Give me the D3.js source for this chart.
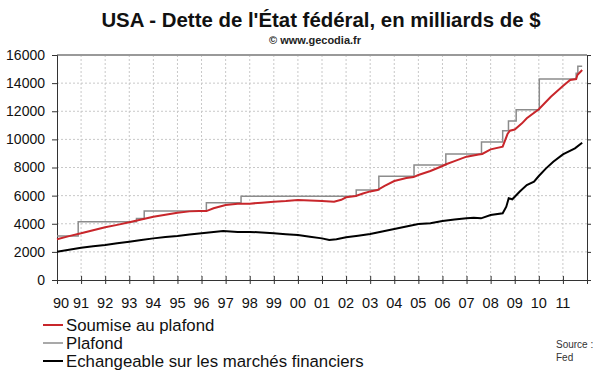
<!DOCTYPE html>
<html>
<head>
<meta charset="utf-8">
<script src="https://cdn.jsdelivr.net/npm/d3@7"></script>
<style>
  body { margin: 0; background: #fff; }
  svg { display: block; font-family: "Liberation Sans", Arial, sans-serif; }
</style>
</head>
<body>
<div id="chart"></div>
<script>
// dimensions of the picture and the plot area
const width = 600,
  height = 372;
const plot = { left: 57, right: 587, top: 55, bottom: 280 };

// debt subject to the limit (red)
const soumiseYears = [1990.0, 1990.5, 1991.0, 1991.5, 1992.0, 1992.5, 1993.0, 1993.5, 1994.0, 1994.5,
  1995.0, 1995.5, 1995.9, 1996.2, 1996.5, 1997.0, 1997.5, 1998.0, 1998.5, 1999.0, 1999.5,
  2000.0, 2000.5, 2001.0, 2001.5, 2001.8, 2002.0, 2002.4, 2002.7, 2003.0, 2003.3, 2003.6,
  2004.0, 2004.5, 2004.8, 2005.0, 2005.5, 2006.0, 2006.15, 2006.5, 2007.0, 2007.5, 2007.65,
  2008.0, 2008.5, 2008.7, 2008.8, 2009.0, 2009.3, 2009.5, 2010.0, 2010.5, 2011.0, 2011.3,
  2011.55, 2011.6, 2011.8];
const soumiseValues = [2900, 3120, 3320, 3540, 3745, 3920, 4100, 4300, 4500, 4640,
  4790, 4880, 4900, 4900, 5100, 5330, 5420, 5430, 5500, 5570, 5620,
  5690, 5660, 5620, 5570, 5700, 5880, 5970, 6150, 6300, 6400, 6700,
  7040, 7250, 7320, 7465, 7750, 8105, 8230, 8450, 8770, 8930, 8960,
  9290, 9480, 10380, 10620, 10700, 11140, 11500, 12140, 13030, 13790, 14220,
  14290, 14580, 14930];

// debt ceiling (grey steps): date of each change and new level
const plafondYears = [1990.0, 1990.88, 1993.3, 1993.62, 1996.2, 1997.64, 2002.42, 2003.36, 2004.82,
  2006.14, 2007.62, 2008.5, 2008.74, 2009.06, 2010.02, 2011.55, 2011.62, 2011.8];
const plafondValues = [3123, 4145, 4370, 4900, 5500, 5950, 6400, 7384, 8184,
  8965, 9815, 10615, 11315, 12104, 14294, 14694, 15194, 15194];

// marketable debt (black)
const echangeableYears = [1990.0, 1990.5, 1991.0, 1991.5, 1992.0, 1992.5, 1993.0, 1993.5, 1994.0, 1994.5,
  1995.0, 1995.5, 1996.0, 1996.5, 1996.9, 1997.5, 1998.0, 1998.5, 1999.0, 1999.5,
  2000.0, 2000.5, 2001.0, 2001.3, 2001.6, 2002.0, 2002.5, 2003.0, 2003.5, 2004.0, 2004.5,
  2005.0, 2005.5, 2006.0, 2006.5, 2007.0, 2007.3, 2007.6, 2008.0, 2008.5, 2008.65, 2008.75,
  2008.9, 2009.2, 2009.5, 2009.8, 2010.0, 2010.3, 2010.6, 2011.0, 2011.5, 2011.8];
const echangeableValues = [2015, 2150, 2300, 2400, 2490, 2610, 2725, 2850, 2960, 3050,
  3130, 3230, 3320, 3420, 3480, 3420, 3420, 3380, 3320, 3260,
  3200, 3080, 2960, 2845, 2900, 3035, 3150, 3270, 3450, 3625, 3800,
  3980, 4030, 4195, 4300, 4385, 4420, 4385, 4620, 4740, 5210, 5810,
  5740, 6280, 6755, 6990, 7395, 7940, 8410, 8935, 9360, 9760];

// axis ticks and labels
const yearTicks = d3.range(1990, 2013);
const yearLabels = ["90", "91", "92", "93", "94", "95", "96", "97", "98", "99", "00",
  "01", "02", "03", "04", "05", "06", "07", "08", "09", "10", "11"];
const valueTicks = [0, 2000, 4000, 6000, 8000, 10000, 12000, 14000, 16000];

const legendLabels = ["Soumise au plafond", "Plafond", "Echangeable sur les marchés financiers"];
const legendColors = ["#c8262b", "#8c8c8c", "#000000"];

const svg = d3.select("#chart")
  .append("svg")
  .attr("width", width)
  .attr("height", height);

const x = d3.scaleLinear().domain([1990, 2012]).range([plot.left, plot.right]);
const y = d3.scaleLinear().domain([0, 16000]).range([plot.bottom, plot.top]);

// grid
svg.append("g")
  .selectAll("line")
  .data(yearTicks.slice(1, -1))
  .join("line")
  .attr("x1", d => x(d)).attr("x2", d => x(d))
  .attr("y1", plot.top).attr("y2", plot.bottom)
  .attr("stroke", "#c8c8c8")
  .attr("stroke-dasharray", "2,2");
svg.append("g")
  .selectAll("line")
  .data(valueTicks.slice(1, -1))
  .join("line")
  .attr("x1", plot.left).attr("x2", plot.right)
  .attr("y1", d => y(d)).attr("y2", d => y(d))
  .attr("stroke", "#c8c8c8")
  .attr("stroke-dasharray", "2,2");

// top border
svg.append("line")
  .attr("x1", plot.left).attr("x2", plot.right)
  .attr("y1", plot.top).attr("y2", plot.top)
  .attr("stroke", "#999")
  .attr("stroke-width", 2);

// left axis
const yAxis = svg.append("g")
  .attr("transform", `translate(${plot.left},0)`)
  .call(d3.axisLeft(y).tickValues(valueTicks).tickSize(5).tickPadding(7).tickFormat(d3.format("d")));
yAxis.selectAll("text").style("font-size", "14px").attr("fill", "#111");

// right axis (ticks only)
svg.append("g")
  .attr("transform", `translate(${plot.right},0)`)
  .call(d3.axisRight(y).tickValues(valueTicks).tickSize(4).tickFormat(""));

// bottom axis, ticks crossing the line
const xAxis = svg.append("g")
  .attr("transform", `translate(0,${plot.bottom})`)
  .call(d3.axisBottom(x).tickValues(yearTicks).tickSize(4).tickFormat(""));
xAxis.selectAll(".tick line").attr("y1", -4);
svg.selectAll(".domain").attr("stroke", "#333");
svg.selectAll(".tick line").attr("stroke", "#333");

svg.append("g")
  .selectAll("text")
  .data(yearLabels)
  .join("text")
  .attr("x", (d, i) => i === 0 ? x(1990) + 4 : x(1990 + i))
  .attr("y", 308)
  .attr("text-anchor", "middle")
  .style("font-size", "14.5px")
  .attr("fill", "#111")
  .text(d => d);

// the three lines
const line = d3.line().x(d => x(d[0])).y(d => y(d[1]));
const stepLine = d3.line().x(d => x(d[0])).y(d => y(d[1])).curve(d3.curveStepAfter);

svg.append("path")
  .datum(d3.zip(plafondYears, plafondValues))
  .attr("d", stepLine)
  .attr("fill", "none")
  .attr("stroke", legendColors[1])
  .attr("stroke-width", 1.5);

svg.append("path")
  .datum(d3.zip(echangeableYears, echangeableValues))
  .attr("d", line)
  .attr("fill", "none")
  .attr("stroke", legendColors[2])
  .attr("stroke-width", 2);

svg.append("path")
  .datum(d3.zip(soumiseYears, soumiseValues))
  .attr("d", line)
  .attr("fill", "none")
  .attr("stroke", legendColors[0])
  .attr("stroke-width", 2);

// titles
svg.append("text")
  .attr("x", 321).attr("y", 27)
  .attr("text-anchor", "middle")
  .style("font-size", "20.4px")
  .style("font-weight", "bold")
  .attr("fill", "#111")
  .text("USA - Dette de l'État fédéral, en milliards de $");

svg.append("text")
  .attr("x", 315).attr("y", 44)
  .attr("text-anchor", "middle")
  .style("font-size", "11px")
  .style("font-weight", "bold")
  .attr("fill", "#222")
  .text("© www.gecodia.fr");

// legend
const legend = svg.append("g")
  .selectAll("g")
  .data(legendLabels)
  .join("g")
  .attr("transform", (d, i) => `translate(0,${325 + i * 18})`);
legend.append("line")
  .attr("x1", 43).attr("x2", 63)
  .attr("stroke", (d, i) => legendColors[i])
  .attr("stroke-width", (d, i) => i === 1 ? 1.5 : 2);
legend.append("text")
  .attr("x", 66).attr("y", 5.5)
  .style("font-size", "16.8px")
  .attr("fill", "#111")
  .text(d => d);

// source
svg.append("text")
  .attr("x", 556).attr("y", 348)
  .style("font-size", "10px")
  .attr("fill", "#333")
  .text("Source :");
svg.append("text")
  .attr("x", 556).attr("y", 361)
  .style("font-size", "10px")
  .attr("fill", "#333")
  .text("Fed");
</script>
</body>
</html>
